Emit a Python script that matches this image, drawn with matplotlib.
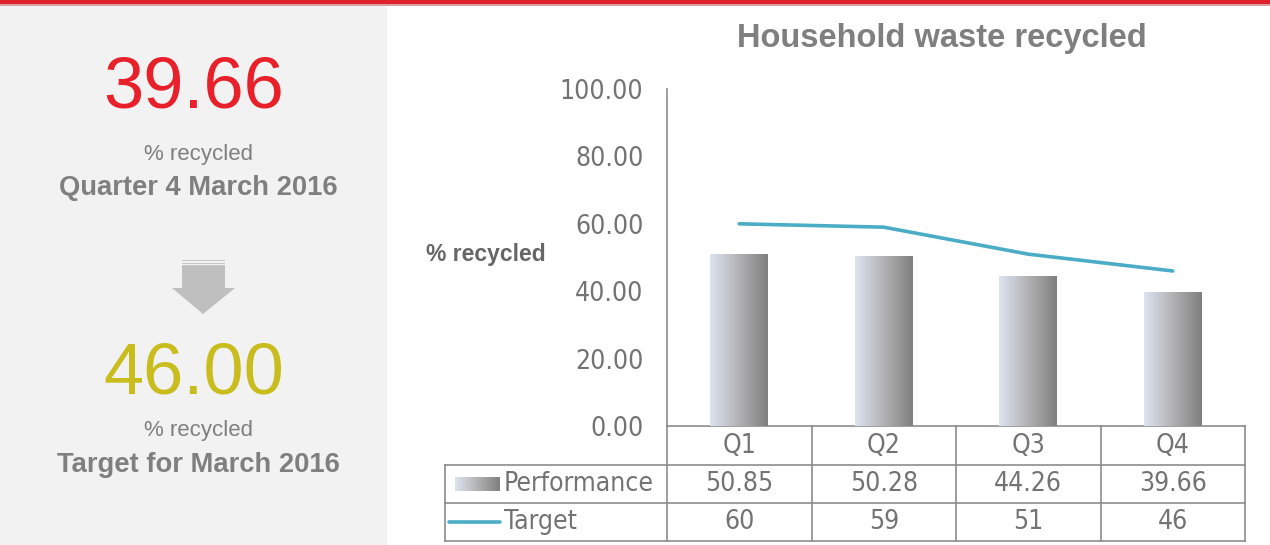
import numpy as np
import matplotlib

matplotlib.use("Agg")
import matplotlib.pyplot as plt
from matplotlib import font_manager
from matplotlib.colors import LinearSegmentedColormap
from matplotlib.patches import Rectangle, Polygon

quarters = ["Q1", "Q2", "Q3", "Q4"]
performance = [50.85, 50.28, 44.26, 39.66]
target = [60, 59, 51, 46]
yticks = [0, 20, 40, 60, 80, 100]
current_value = "39.66"
target_value = "46.00"


def pick_font(names):
    for name in names:
        try:
            font_manager.findfont(name, fallback_to_default=False)
            return name
        except ValueError:
            pass
    return "DejaVu Sans"


def condensed_font():
    # look for any narrow/condensed face among installed fonts
    for entry in font_manager.fontManager.ttflist:
        fname = entry.fname.lower()
        if "narrow" in fname and "liberation" in fname and "bold" not in fname and "italic" not in fname:
            return entry.fname, 22
    for entry in font_manager.fontManager.ttflist:
        fname = entry.fname.lower()
        if "condensed" in fname and "bold" not in fname and "oblique" not in fname and "italic" not in fname:
            return entry.fname, 19
    return None, 19


wide = pick_font(["Liberation Sans", "Arial", "DejaVu Sans"])
narrow_file, num_size = condensed_font()
if narrow_file:
    narrow_prop = font_manager.FontProperties(fname=narrow_file)
else:
    narrow_prop = font_manager.FontProperties(family=wide)

plt.rcParams["font.family"] = [wide, "DejaVu Sans"]

W, H = 1270, 545
fig = plt.figure(figsize=(W / 100, H / 100), dpi=100)
fig.patch.set_facecolor("white")

# full-figure overlay in pixel coordinates for panel, arrow and table grid
bg = fig.add_axes([0, 0, 1, 1], zorder=0)
bg.set_xlim(0, W)
bg.set_ylim(H, 0)
bg.axis("off")

bg.add_patch(Rectangle((0, 0), W, 4, color="#e0202a", lw=0))
bg.add_patch(Rectangle((0, 4), W, 1.5, color="#d8a0a4", lw=0))
bg.add_patch(Rectangle((0, 5.5), 387, H, color="#f2f2f2", lw=0))

grey_text = "#7f7f7f"
bg.text(194, 108, current_value, color="#e8202a", fontsize=52, ha="center", va="baseline")
bg.text(198, 160, "% recycled", color=grey_text, fontsize=16, ha="center", va="baseline")
bg.text(198, 195, "Quarter 4 March 2016", color=grey_text, fontsize=19.7, fontweight="bold",
        ha="center", va="baseline")

# down arrow
bg.add_patch(Polygon([(182, 266), (225, 266), (225, 288), (235, 288), (203, 314), (172, 288), (182, 288)],
                     closed=True, color="#bfbfbf", lw=0))
for yy in (260, 262.5, 265):
    bg.add_patch(Rectangle((182, yy), 43, 1.4, color="#c8c8c8", lw=0))

bg.text(194, 394, target_value, color="#c8bd1c", fontsize=52, ha="center", va="baseline")
bg.text(198, 436, "% recycled", color=grey_text, fontsize=16, ha="center", va="baseline")
bg.text(198, 472, "Target for March 2016", color=grey_text, fontsize=19.7, fontweight="bold",
        ha="center", va="baseline")

# chart
ax_left, ax_right, ax_top, ax_bottom = 667, 1245, 89, 426
ax = fig.add_axes([ax_left / W, 1 - ax_bottom / H, (ax_right - ax_left) / W, (ax_bottom - ax_top) / H], zorder=2)
ax.patch.set_alpha(0)
x = np.arange(len(quarters))

bar_cmap = LinearSegmentedColormap.from_list("bar", ["#dde4f0", "#b2b2b4", "#7f7f7f"])
gradient = np.linspace(0, 1, 256).reshape(1, -1)
bar_width = 0.4
bars = ax.bar(x, performance, width=bar_width, color="none", lw=0)
for bar in bars:
    bx, bw, bh = bar.get_x(), bar.get_width(), bar.get_height()
    ax.imshow(gradient, cmap=bar_cmap, aspect="auto", extent=[bx, bx + bw, 0, bh], zorder=2)
ax.plot(x, target, color="#4bacc6", lw=2.6, solid_capstyle="round", zorder=3)
ax.set_xlim(-0.5, len(quarters) - 0.5)
ax.set_ylim(0, 100)

for side in ("top", "right", "bottom"):
    ax.spines[side].set_visible(False)
ax.spines["left"].set_color("#8c8c8c")
ax.spines["left"].set_linewidth(1.2)
ax.set_xticks([])
ax.set_yticks(yticks, [f"{v:.2f}" for v in yticks])
ax.tick_params(axis="y", length=0, pad=17, labelcolor="#737373")
for label in ax.get_yticklabels():
    label.set_fontproperties(narrow_prop)
    label.set_fontsize(num_size)

fig.text(942 / W, 1 - 38 / H, "Household waste recycled", color=grey_text,
         fontsize=23.5, fontweight="bold", ha="center", va="center")
fig.text(486 / W, 1 - 254 / H, "% recycled", color="#666666", fontsize=16.5, fontweight="bold",
         ha="center", va="center")

# data table below the axis
line_kw = dict(color="#8c8c8c", lw=1.2, zorder=1)
row_edges = [426, 465, 503, 541]
table_left = 445
to_px = lambda v: ax.transData.transform((v, 0))[0]
col_edges = [to_px(i - 0.5) for i in range(len(quarters) + 1)]
bg.plot([col_edges[0], col_edges[-1]], [row_edges[0], row_edges[0]], **line_kw)
for y_edge in row_edges[1:]:
    bg.plot([table_left, col_edges[-1]], [y_edge, y_edge], **line_kw)
for x_edge in col_edges:
    bg.plot([x_edge, x_edge], [row_edges[0], row_edges[-1]], **line_kw)
bg.plot([table_left, table_left], [row_edges[1], row_edges[-1]], **line_kw)

cell_kw = dict(color="#737373", fontproperties=narrow_prop, ha="center", va="center")
rows = [quarters, [f"{v:.2f}" for v in performance], [f"{v:g}" for v in target]]
for r, row in enumerate(rows):
    yc = (row_edges[r] + row_edges[r + 1]) / 2
    for i, txt in enumerate(row):
        bg.text(to_px(i), yc, txt, fontsize=num_size, **cell_kw)

perf_y = (row_edges[1] + row_edges[2]) / 2
targ_y = (row_edges[2] + row_edges[3]) / 2
bg.imshow(gradient, cmap=bar_cmap, aspect="auto", extent=[455, 500, perf_y + 7, perf_y - 7], zorder=2)
bg.plot([449, 500], [targ_y, targ_y], color="#4bacc6", lw=2.6, solid_capstyle="round")
bg.set_xlim(0, W)
bg.set_ylim(H, 0)
label_kw = dict(cell_kw, ha="left")
bg.text(504, perf_y, "Performance", fontsize=num_size, **label_kw)
bg.text(504, targ_y, "Target", fontsize=num_size, **label_kw)

fig.savefig("out.png", dpi=100)
